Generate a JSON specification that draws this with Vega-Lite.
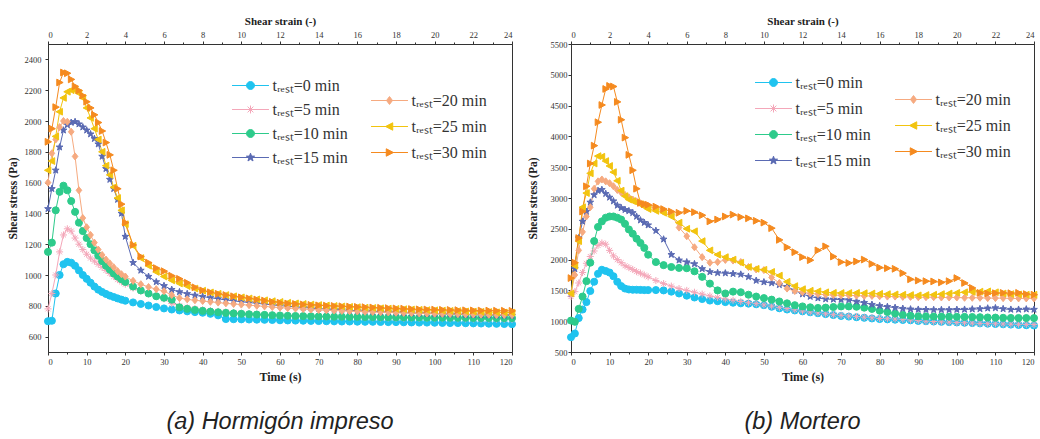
{
  "$schema": "https://vega.github.io/schema/vega-lite/v6.json",
  "background": "white",
  "padding": {"left": 6, "top": 14, "right": 0, "bottom": 0},
  "spacing": 7,
  "config": {
    "font": "Liberation Serif",
    "view": {"stroke": "#333", "strokeWidth": 1},
    "axis": {
      "grid": false,
      "domainColor": "#333",
      "tickColor": "#333",
      "labelColor": "#333",
      "labelFont": "Liberation Serif",
      "labelFontSize": 8.5,
      "tickSize": 3,
      "titleFont": "Liberation Serif",
      "titleFontWeight": "bold",
      "titleColor": "#222"
    },
    "legend": {
      "labelFont": "Liberation Serif",
      "labelFontSize": 16,
      "labelColor": "#333",
      "symbolSize": 576,
      "symbolStrokeWidth": 1,
      "labelOffset": 9.5,
      "padding": 0
    }
  },
  "resolve": {"scale": {"x": "independent", "y": "independent", "color": "independent", "fill": "independent", "stroke": "independent", "shape": "independent"}},
  "datasets": {
    "hormigon": [
      {"s":0,"t":0,"v":700},{"s":0,"t":1,"v":703},{"s":0,"t":2,"v":880},{"s":0,"t":3,"v":1000},{"s":0,"t":4,"v":1070},{"s":0,"t":5,"v":1085},{"s":0,"t":6,"v":1080},{"s":0,"t":7,"v":1060},{"s":0,"t":8,"v":1030},{"s":0,"t":9,"v":1000},{"s":0,"t":10,"v":975},{"s":0,"t":11,"v":950},{"s":0,"t":12,"v":925},{"s":0,"t":13,"v":905},{"s":0,"t":14,"v":890},{"s":0,"t":15,"v":877},{"s":0,"t":16,"v":866},{"s":0,"t":17,"v":857},{"s":0,"t":18,"v":848},{"s":0,"t":19,"v":840},{"s":0,"t":20,"v":833},
      {"s":0,"t":22,"v":822},{"s":0,"t":24,"v":812},{"s":0,"t":26,"v":802},{"s":0,"t":28,"v":792},{"s":0,"t":30,"v":783},{"s":0,"t":32,"v":776},{"s":0,"t":34,"v":770},{"s":0,"t":36,"v":764},{"s":0,"t":38,"v":759},{"s":0,"t":40,"v":755},{"s":0,"t":42,"v":748},{"s":0,"t":44,"v":738},{"s":0,"t":46,"v":714},{"s":0,"t":48,"v":713},{"s":0,"t":50,"v":712},{"s":0,"t":52,"v":711},{"s":0,"t":54,"v":710},{"s":0,"t":56,"v":709},{"s":0,"t":58,"v":708},{"s":0,"t":60,"v":706},{"s":0,"t":62,"v":705},{"s":0,"t":64,"v":704},{"s":0,"t":66,"v":703},{"s":0,"t":68,"v":702},{"s":0,"t":70,"v":701},{"s":0,"t":72,"v":700},{"s":0,"t":74,"v":699},{"s":0,"t":76,"v":698},{"s":0,"t":78,"v":698},{"s":0,"t":80,"v":697},{"s":0,"t":82,"v":696},{"s":0,"t":84,"v":696},{"s":0,"t":86,"v":695},{"s":0,"t":88,"v":694},{"s":0,"t":90,"v":694},{"s":0,"t":92,"v":693},{"s":0,"t":94,"v":692},{"s":0,"t":96,"v":691},{"s":0,"t":98,"v":691},{"s":0,"t":100,"v":690},{"s":0,"t":102,"v":689},{"s":0,"t":104,"v":688},{"s":0,"t":106,"v":688},{"s":0,"t":108,"v":687},{"s":0,"t":110,"v":686},{"s":0,"t":112,"v":685},{"s":0,"t":114,"v":684},{"s":0,"t":116,"v":683},{"s":0,"t":118,"v":682},{"s":0,"t":120,"v":681},
      {"s":5,"t":0,"v":780},{"s":5,"t":1,"v":880},{"s":5,"t":2,"v":1000},{"s":5,"t":3,"v":1150},{"s":5,"t":4,"v":1260},{"s":5,"t":5,"v":1300},{"s":5,"t":6,"v":1285},{"s":5,"t":7,"v":1240},{"s":5,"t":8,"v":1200},{"s":5,"t":9,"v":1165},{"s":5,"t":10,"v":1135},{"s":5,"t":11,"v":1110},{"s":5,"t":12,"v":1090},{"s":5,"t":13,"v":1070},{"s":5,"t":14,"v":1050},{"s":5,"t":15,"v":1030},{"s":5,"t":16,"v":1010},{"s":5,"t":17,"v":990},{"s":5,"t":18,"v":970},{"s":5,"t":19,"v":955},{"s":5,"t":20,"v":940},
      {"s":5,"t":22,"v":915},{"s":5,"t":24,"v":895},{"s":5,"t":26,"v":878},{"s":5,"t":28,"v":862},{"s":5,"t":30,"v":845},{"s":5,"t":32,"v":815},{"s":5,"t":34,"v":800},{"s":5,"t":36,"v":790},{"s":5,"t":38,"v":782},{"s":5,"t":40,"v":775},{"s":5,"t":42,"v":769},{"s":5,"t":44,"v":764},{"s":5,"t":46,"v":760},{"s":5,"t":48,"v":756},{"s":5,"t":50,"v":752},{"s":5,"t":52,"v":749},{"s":5,"t":54,"v":746},{"s":5,"t":56,"v":743},{"s":5,"t":58,"v":740},{"s":5,"t":60,"v":738},{"s":5,"t":62,"v":736},{"s":5,"t":64,"v":734},{"s":5,"t":66,"v":732},{"s":5,"t":68,"v":730},{"s":5,"t":70,"v":729},{"s":5,"t":72,"v":728},{"s":5,"t":74,"v":727},{"s":5,"t":76,"v":726},{"s":5,"t":78,"v":725},{"s":5,"t":80,"v":724},{"s":5,"t":82,"v":723},{"s":5,"t":84,"v":722},{"s":5,"t":86,"v":721},{"s":5,"t":88,"v":721},{"s":5,"t":90,"v":720},{"s":5,"t":92,"v":719},{"s":5,"t":94,"v":719},{"s":5,"t":96,"v":718},{"s":5,"t":98,"v":718},{"s":5,"t":100,"v":717},{"s":5,"t":102,"v":717},{"s":5,"t":104,"v":716},{"s":5,"t":106,"v":716},{"s":5,"t":108,"v":715},{"s":5,"t":110,"v":715},{"s":5,"t":112,"v":714},{"s":5,"t":114,"v":714},{"s":5,"t":116,"v":713},{"s":5,"t":118,"v":713},{"s":5,"t":120,"v":712},
      {"s":10,"t":0,"v":1150},{"s":10,"t":1,"v":1210},{"s":10,"t":2,"v":1420},{"s":10,"t":3,"v":1540},{"s":10,"t":4,"v":1580},{"s":10,"t":5,"v":1550},{"s":10,"t":6,"v":1480},{"s":10,"t":7,"v":1410},{"s":10,"t":8,"v":1340},{"s":10,"t":9,"v":1285},{"s":10,"t":10,"v":1240},{"s":10,"t":11,"v":1200},{"s":10,"t":12,"v":1160},{"s":10,"t":13,"v":1125},{"s":10,"t":14,"v":1090},{"s":10,"t":15,"v":1060},{"s":10,"t":16,"v":1035},{"s":10,"t":17,"v":1010},{"s":10,"t":18,"v":990},{"s":10,"t":19,"v":972},{"s":10,"t":20,"v":955},
      {"s":10,"t":22,"v":925},{"s":10,"t":24,"v":900},{"s":10,"t":26,"v":880},{"s":10,"t":28,"v":862},{"s":10,"t":30,"v":852},{"s":10,"t":32,"v":840},{"s":10,"t":34,"v":790},{"s":10,"t":36,"v":780},{"s":10,"t":38,"v":773},{"s":10,"t":40,"v":767},{"s":10,"t":42,"v":762},{"s":10,"t":44,"v":758},{"s":10,"t":46,"v":754},{"s":10,"t":48,"v":751},{"s":10,"t":50,"v":748},{"s":10,"t":52,"v":745},{"s":10,"t":54,"v":743},{"s":10,"t":56,"v":741},{"s":10,"t":58,"v":739},{"s":10,"t":60,"v":737},{"s":10,"t":62,"v":735},{"s":10,"t":64,"v":734},{"s":10,"t":66,"v":733},{"s":10,"t":68,"v":732},{"s":10,"t":70,"v":731},{"s":10,"t":72,"v":730},{"s":10,"t":74,"v":729},{"s":10,"t":76,"v":729},{"s":10,"t":78,"v":728},{"s":10,"t":80,"v":728},{"s":10,"t":82,"v":727},{"s":10,"t":84,"v":727},{"s":10,"t":86,"v":726},{"s":10,"t":88,"v":726},{"s":10,"t":90,"v":725},{"s":10,"t":92,"v":725},{"s":10,"t":94,"v":724},{"s":10,"t":96,"v":724},{"s":10,"t":98,"v":723},{"s":10,"t":100,"v":723},{"s":10,"t":102,"v":723},{"s":10,"t":104,"v":722},{"s":10,"t":106,"v":722},{"s":10,"t":108,"v":722},{"s":10,"t":110,"v":721},{"s":10,"t":112,"v":721},{"s":10,"t":114,"v":721},{"s":10,"t":116,"v":720},{"s":10,"t":118,"v":720},{"s":10,"t":120,"v":720},
      {"s":15,"t":0,"v":1430},{"s":15,"t":1,"v":1560},{"s":15,"t":2,"v":1680},{"s":15,"t":3,"v":1830},{"s":15,"t":4,"v":1940},{"s":15,"t":5,"v":1975},{"s":15,"t":6,"v":1990},{"s":15,"t":7,"v":1995},{"s":15,"t":8,"v":1980},{"s":15,"t":9,"v":1960},{"s":15,"t":10,"v":1940},{"s":15,"t":11,"v":1915},{"s":15,"t":12,"v":1885},{"s":15,"t":13,"v":1850},{"s":15,"t":14,"v":1770},{"s":15,"t":15,"v":1690},{"s":15,"t":16,"v":1620},{"s":15,"t":17,"v":1560},{"s":15,"t":18,"v":1490},{"s":15,"t":19,"v":1400},{"s":15,"t":20,"v":1250},
      {"s":15,"t":22,"v":1080},{"s":15,"t":24,"v":1030},{"s":15,"t":26,"v":990},{"s":15,"t":28,"v":955},{"s":15,"t":30,"v":930},{"s":15,"t":32,"v":905},{"s":15,"t":34,"v":890},{"s":15,"t":36,"v":878},{"s":15,"t":38,"v":868},{"s":15,"t":40,"v":860},{"s":15,"t":42,"v":852},{"s":15,"t":44,"v":845},{"s":15,"t":46,"v":838},{"s":15,"t":48,"v":832},{"s":15,"t":50,"v":826},{"s":15,"t":52,"v":821},{"s":15,"t":54,"v":816},{"s":15,"t":56,"v":811},{"s":15,"t":58,"v":806},{"s":15,"t":60,"v":801},{"s":15,"t":62,"v":797},{"s":15,"t":64,"v":793},{"s":15,"t":66,"v":789},{"s":15,"t":68,"v":785},{"s":15,"t":70,"v":782},{"s":15,"t":72,"v":779},{"s":15,"t":74,"v":776},{"s":15,"t":76,"v":773},{"s":15,"t":78,"v":770},{"s":15,"t":80,"v":768},{"s":15,"t":82,"v":765},{"s":15,"t":84,"v":763},{"s":15,"t":86,"v":761},{"s":15,"t":88,"v":759},{"s":15,"t":90,"v":757},{"s":15,"t":92,"v":755},{"s":15,"t":94,"v":753},{"s":15,"t":96,"v":751},{"s":15,"t":98,"v":750},{"s":15,"t":100,"v":748},{"s":15,"t":102,"v":747},{"s":15,"t":104,"v":745},{"s":15,"t":106,"v":744},{"s":15,"t":108,"v":742},{"s":15,"t":110,"v":741},{"s":15,"t":112,"v":740},{"s":15,"t":114,"v":739},{"s":15,"t":116,"v":738},{"s":15,"t":118,"v":737},{"s":15,"t":120,"v":736},
      {"s":20,"t":0,"v":1600},{"s":20,"t":1,"v":1790},{"s":20,"t":2,"v":1880},{"s":20,"t":3,"v":1960},{"s":20,"t":4,"v":2000},{"s":20,"t":5,"v":1995},{"s":20,"t":6,"v":1930},{"s":20,"t":7,"v":1770},{"s":20,"t":8,"v":1550},{"s":20,"t":9,"v":1370},{"s":20,"t":10,"v":1310},{"s":20,"t":11,"v":1260},{"s":20,"t":12,"v":1210},{"s":20,"t":13,"v":1165},{"s":20,"t":14,"v":1130},{"s":20,"t":15,"v":1100},{"s":20,"t":16,"v":1075},{"s":20,"t":17,"v":1050},{"s":20,"t":18,"v":1025},{"s":20,"t":19,"v":1005},{"s":20,"t":20,"v":990},
      {"s":20,"t":22,"v":962},{"s":20,"t":24,"v":940},{"s":20,"t":26,"v":922},{"s":20,"t":28,"v":908},{"s":20,"t":30,"v":895},{"s":20,"t":32,"v":870},{"s":20,"t":34,"v":850},{"s":20,"t":36,"v":842},{"s":20,"t":38,"v":836},{"s":20,"t":40,"v":831},{"s":20,"t":42,"v":826},{"s":20,"t":44,"v":821},{"s":20,"t":46,"v":816},{"s":20,"t":48,"v":812},{"s":20,"t":50,"v":808},{"s":20,"t":52,"v":804},{"s":20,"t":54,"v":800},{"s":20,"t":56,"v":796},{"s":20,"t":58,"v":792},{"s":20,"t":60,"v":788},{"s":20,"t":62,"v":785},{"s":20,"t":64,"v":782},{"s":20,"t":66,"v":779},{"s":20,"t":68,"v":776},{"s":20,"t":70,"v":773},{"s":20,"t":72,"v":771},{"s":20,"t":74,"v":769},{"s":20,"t":76,"v":767},{"s":20,"t":78,"v":765},{"s":20,"t":80,"v":763},{"s":20,"t":82,"v":761},{"s":20,"t":84,"v":760},{"s":20,"t":86,"v":758},{"s":20,"t":88,"v":757},{"s":20,"t":90,"v":755},{"s":20,"t":92,"v":754},{"s":20,"t":94,"v":753},{"s":20,"t":96,"v":751},{"s":20,"t":98,"v":750},{"s":20,"t":100,"v":749},{"s":20,"t":102,"v":748},{"s":20,"t":104,"v":747},{"s":20,"t":106,"v":746},{"s":20,"t":108,"v":745},{"s":20,"t":110,"v":744},{"s":20,"t":112,"v":743},{"s":20,"t":114,"v":742},{"s":20,"t":116,"v":741},{"s":20,"t":118,"v":741},{"s":20,"t":120,"v":740},
      {"s":25,"t":0,"v":1680},{"s":25,"t":1,"v":1740},{"s":25,"t":2,"v":1900},{"s":25,"t":3,"v":2060},{"s":25,"t":4,"v":2150},{"s":25,"t":5,"v":2190},{"s":25,"t":6,"v":2200},{"s":25,"t":7,"v":2200},{"s":25,"t":8,"v":2180},{"s":25,"t":9,"v":2150},{"s":25,"t":10,"v":2085},{"s":25,"t":11,"v":2020},{"s":25,"t":12,"v":1950},{"s":25,"t":13,"v":1880},{"s":25,"t":14,"v":1800},{"s":25,"t":15,"v":1710},{"s":25,"t":16,"v":1650},{"s":25,"t":17,"v":1570},{"s":25,"t":18,"v":1500},{"s":25,"t":19,"v":1420},{"s":25,"t":20,"v":1330},
      {"s":25,"t":22,"v":1190},{"s":25,"t":24,"v":1110},{"s":25,"t":26,"v":1060},{"s":25,"t":28,"v":1020},{"s":25,"t":30,"v":990},{"s":25,"t":32,"v":965},{"s":25,"t":34,"v":945},{"s":25,"t":36,"v":928},{"s":25,"t":38,"v":912},{"s":25,"t":40,"v":898},{"s":25,"t":42,"v":887},{"s":25,"t":44,"v":878},{"s":25,"t":46,"v":870},{"s":25,"t":48,"v":862},{"s":25,"t":50,"v":855},{"s":25,"t":52,"v":848},{"s":25,"t":54,"v":842},{"s":25,"t":56,"v":836},{"s":25,"t":58,"v":830},{"s":25,"t":60,"v":825},{"s":25,"t":62,"v":820},{"s":25,"t":64,"v":816},{"s":25,"t":66,"v":812},{"s":25,"t":68,"v":808},{"s":25,"t":70,"v":805},{"s":25,"t":72,"v":802},{"s":25,"t":74,"v":799},{"s":25,"t":76,"v":796},{"s":25,"t":78,"v":793},{"s":25,"t":80,"v":791},{"s":25,"t":82,"v":788},{"s":25,"t":84,"v":786},{"s":25,"t":86,"v":784},{"s":25,"t":88,"v":782},{"s":25,"t":90,"v":780},{"s":25,"t":92,"v":778},{"s":25,"t":94,"v":776},{"s":25,"t":96,"v":774},{"s":25,"t":98,"v":772},{"s":25,"t":100,"v":771},{"s":25,"t":102,"v":769},{"s":25,"t":104,"v":767},{"s":25,"t":106,"v":766},{"s":25,"t":108,"v":764},{"s":25,"t":110,"v":763},{"s":25,"t":112,"v":761},{"s":25,"t":114,"v":760},{"s":25,"t":116,"v":758},{"s":25,"t":118,"v":757},{"s":25,"t":120,"v":756},
      {"s":30,"t":0,"v":1865},{"s":30,"t":1,"v":1950},{"s":30,"t":2,"v":2090},{"s":30,"t":3,"v":2250},{"s":30,"t":4,"v":2315},{"s":30,"t":5,"v":2310},{"s":30,"t":6,"v":2270},{"s":30,"t":7,"v":2225},{"s":30,"t":8,"v":2198},{"s":30,"t":9,"v":2165},{"s":30,"t":10,"v":2125},{"s":30,"t":11,"v":2085},{"s":30,"t":12,"v":2040},{"s":30,"t":13,"v":1990},{"s":30,"t":14,"v":1935},{"s":30,"t":15,"v":1860},{"s":30,"t":16,"v":1780},{"s":30,"t":17,"v":1680},{"s":30,"t":18,"v":1560},{"s":30,"t":19,"v":1460},{"s":30,"t":20,"v":1340},
      {"s":30,"t":22,"v":1195},{"s":30,"t":24,"v":1120},{"s":30,"t":26,"v":1080},{"s":30,"t":28,"v":1045},{"s":30,"t":30,"v":1025},{"s":30,"t":32,"v":995},{"s":30,"t":34,"v":975},{"s":30,"t":36,"v":950},{"s":30,"t":38,"v":920},{"s":30,"t":40,"v":900},{"s":30,"t":42,"v":888},{"s":30,"t":44,"v":878},{"s":30,"t":46,"v":870},{"s":30,"t":48,"v":862},{"s":30,"t":50,"v":855},{"s":30,"t":52,"v":848},{"s":30,"t":54,"v":841},{"s":30,"t":56,"v":834},{"s":30,"t":58,"v":826},{"s":30,"t":60,"v":820},{"s":30,"t":62,"v":815},{"s":30,"t":64,"v":812},{"s":30,"t":66,"v":809},{"s":30,"t":68,"v":806},{"s":30,"t":70,"v":803},{"s":30,"t":72,"v":801},{"s":30,"t":74,"v":799},{"s":30,"t":76,"v":797},{"s":30,"t":78,"v":795},{"s":30,"t":80,"v":793},{"s":30,"t":82,"v":791},{"s":30,"t":84,"v":789},{"s":30,"t":86,"v":787},{"s":30,"t":88,"v":785},{"s":30,"t":90,"v":783},{"s":30,"t":92,"v":781},{"s":30,"t":94,"v":779},{"s":30,"t":96,"v":777},{"s":30,"t":98,"v":776},{"s":30,"t":100,"v":775},{"s":30,"t":102,"v":774},{"s":30,"t":104,"v":773},{"s":30,"t":106,"v":772},{"s":30,"t":108,"v":771},{"s":30,"t":110,"v":770},{"s":30,"t":112,"v":769},{"s":30,"t":114,"v":769},{"s":30,"t":116,"v":768},{"s":30,"t":118,"v":768},{"s":30,"t":120,"v":767}
    ],
    "mortero": [
      {"s":0,"t":0,"v":740},{"s":0,"t":1,"v":800},{"s":0,"t":2,"v":1050},{"s":0,"t":3,"v":1190},{"s":0,"t":4,"v":1310},{"s":0,"t":5,"v":1490},{"s":0,"t":6,"v":1640},{"s":0,"t":7,"v":1770},{"s":0,"t":8,"v":1835},{"s":0,"t":9,"v":1815},{"s":0,"t":10,"v":1790},{"s":0,"t":11,"v":1730},{"s":0,"t":12,"v":1640},{"s":0,"t":13,"v":1570},{"s":0,"t":14,"v":1530},{"s":0,"t":15,"v":1515},{"s":0,"t":16,"v":1510},{"s":0,"t":17,"v":1510},{"s":0,"t":18,"v":1508},{"s":0,"t":19,"v":1505},{"s":0,"t":20,"v":1505},
      {"s":0,"t":22,"v":1505},{"s":0,"t":24,"v":1500},{"s":0,"t":26,"v":1480},{"s":0,"t":28,"v":1450},{"s":0,"t":30,"v":1415},{"s":0,"t":32,"v":1385},{"s":0,"t":34,"v":1360},{"s":0,"t":36,"v":1335},{"s":0,"t":38,"v":1325},{"s":0,"t":40,"v":1310},{"s":0,"t":42,"v":1300},{"s":0,"t":44,"v":1290},{"s":0,"t":46,"v":1285},{"s":0,"t":48,"v":1275},{"s":0,"t":50,"v":1260},{"s":0,"t":52,"v":1235},{"s":0,"t":54,"v":1210},{"s":0,"t":56,"v":1190},{"s":0,"t":58,"v":1175},{"s":0,"t":60,"v":1160},{"s":0,"t":62,"v":1145},{"s":0,"t":64,"v":1130},{"s":0,"t":66,"v":1115},{"s":0,"t":68,"v":1100},{"s":0,"t":70,"v":1085},{"s":0,"t":72,"v":1075},{"s":0,"t":74,"v":1065},{"s":0,"t":76,"v":1055},{"s":0,"t":78,"v":1045},{"s":0,"t":80,"v":1035},{"s":0,"t":82,"v":1030},{"s":0,"t":84,"v":1025},{"s":0,"t":86,"v":1020},{"s":0,"t":88,"v":1015},{"s":0,"t":90,"v":1005},{"s":0,"t":92,"v":1000},{"s":0,"t":94,"v":995},{"s":0,"t":96,"v":990},{"s":0,"t":98,"v":985},{"s":0,"t":100,"v":980},{"s":0,"t":102,"v":975},{"s":0,"t":104,"v":970},{"s":0,"t":106,"v":965},{"s":0,"t":108,"v":960},{"s":0,"t":110,"v":955},{"s":0,"t":112,"v":950},{"s":0,"t":114,"v":945},{"s":0,"t":116,"v":940},{"s":0,"t":118,"v":935},{"s":0,"t":120,"v":930},
      {"s":5,"t":0,"v":1400},{"s":5,"t":1,"v":1480},{"s":5,"t":2,"v":1620},{"s":5,"t":3,"v":1790},{"s":5,"t":4,"v":1940},{"s":5,"t":5,"v":2050},{"s":5,"t":6,"v":2140},{"s":5,"t":7,"v":2230},{"s":5,"t":8,"v":2270},{"s":5,"t":9,"v":2250},{"s":5,"t":10,"v":2150},{"s":5,"t":11,"v":2060},{"s":5,"t":12,"v":2000},{"s":5,"t":13,"v":1950},{"s":5,"t":14,"v":1900},{"s":5,"t":15,"v":1870},{"s":5,"t":16,"v":1840},{"s":5,"t":17,"v":1805},{"s":5,"t":18,"v":1780},{"s":5,"t":19,"v":1750},{"s":5,"t":20,"v":1720},
      {"s":5,"t":22,"v":1660},{"s":5,"t":24,"v":1610},{"s":5,"t":26,"v":1570},{"s":5,"t":28,"v":1530},{"s":5,"t":30,"v":1500},{"s":5,"t":32,"v":1470},{"s":5,"t":34,"v":1440},{"s":5,"t":36,"v":1410},{"s":5,"t":38,"v":1385},{"s":5,"t":40,"v":1360},{"s":5,"t":42,"v":1340},{"s":5,"t":44,"v":1320},{"s":5,"t":46,"v":1300},{"s":5,"t":48,"v":1285},{"s":5,"t":50,"v":1265},{"s":5,"t":52,"v":1245},{"s":5,"t":54,"v":1225},{"s":5,"t":56,"v":1205},{"s":5,"t":58,"v":1185},{"s":5,"t":60,"v":1165},{"s":5,"t":62,"v":1150},{"s":5,"t":64,"v":1135},{"s":5,"t":66,"v":1120},{"s":5,"t":68,"v":1105},{"s":5,"t":70,"v":1095},{"s":5,"t":72,"v":1085},{"s":5,"t":74,"v":1075},{"s":5,"t":76,"v":1065},{"s":5,"t":78,"v":1055},{"s":5,"t":80,"v":1045},{"s":5,"t":82,"v":1040},{"s":5,"t":84,"v":1035},{"s":5,"t":86,"v":1030},{"s":5,"t":88,"v":1020},{"s":5,"t":90,"v":1010},{"s":5,"t":92,"v":1000},{"s":5,"t":94,"v":995},{"s":5,"t":96,"v":990},{"s":5,"t":98,"v":985},{"s":5,"t":100,"v":980},{"s":5,"t":102,"v":975},{"s":5,"t":104,"v":970},{"s":5,"t":106,"v":965},{"s":5,"t":108,"v":960},{"s":5,"t":110,"v":958},{"s":5,"t":112,"v":955},{"s":5,"t":114,"v":952},{"s":5,"t":116,"v":950},{"s":5,"t":118,"v":948},{"s":5,"t":120,"v":945},
      {"s":10,"t":0,"v":1010},{"s":10,"t":1,"v":990},{"s":10,"t":2,"v":1200},{"s":10,"t":3,"v":1400},{"s":10,"t":4,"v":1650},{"s":10,"t":5,"v":1950},{"s":10,"t":6,"v":2300},{"s":10,"t":7,"v":2530},{"s":10,"t":8,"v":2620},{"s":10,"t":9,"v":2680},{"s":10,"t":10,"v":2700},{"s":10,"t":11,"v":2700},{"s":10,"t":12,"v":2680},{"s":10,"t":13,"v":2650},{"s":10,"t":14,"v":2580},{"s":10,"t":15,"v":2490},{"s":10,"t":16,"v":2420},{"s":10,"t":17,"v":2340},{"s":10,"t":18,"v":2270},{"s":10,"t":19,"v":2190},{"s":10,"t":20,"v":2080},
      {"s":10,"t":22,"v":1960},{"s":10,"t":24,"v":1910},{"s":10,"t":26,"v":1880},{"s":10,"t":28,"v":1865},{"s":10,"t":30,"v":1860},{"s":10,"t":32,"v":1810},{"s":10,"t":34,"v":1720},{"s":10,"t":36,"v":1610},{"s":10,"t":38,"v":1500},{"s":10,"t":40,"v":1450},{"s":10,"t":42,"v":1480},{"s":10,"t":44,"v":1470},{"s":10,"t":46,"v":1430},{"s":10,"t":48,"v":1400},{"s":10,"t":50,"v":1375},{"s":10,"t":52,"v":1350},{"s":10,"t":54,"v":1320},{"s":10,"t":56,"v":1290},{"s":10,"t":58,"v":1260},{"s":10,"t":60,"v":1240},{"s":10,"t":62,"v":1225},{"s":10,"t":64,"v":1215},{"s":10,"t":66,"v":1220},{"s":10,"t":68,"v":1230},{"s":10,"t":70,"v":1240},{"s":10,"t":72,"v":1240},{"s":10,"t":74,"v":1235},{"s":10,"t":76,"v":1220},{"s":10,"t":78,"v":1200},{"s":10,"t":80,"v":1170},{"s":10,"t":82,"v":1150},{"s":10,"t":84,"v":1125},{"s":10,"t":86,"v":1105},{"s":10,"t":88,"v":1090},{"s":10,"t":90,"v":1080},{"s":10,"t":92,"v":1078},{"s":10,"t":94,"v":1076},{"s":10,"t":96,"v":1075},{"s":10,"t":98,"v":1074},{"s":10,"t":100,"v":1072},{"s":10,"t":102,"v":1070},{"s":10,"t":104,"v":1068},{"s":10,"t":106,"v":1065},{"s":10,"t":108,"v":1060},{"s":10,"t":110,"v":1058},{"s":10,"t":112,"v":1055},{"s":10,"t":114,"v":1053},{"s":10,"t":116,"v":1052},{"s":10,"t":118,"v":1051},{"s":10,"t":120,"v":1050},
      {"s":15,"t":0,"v":1450},{"s":15,"t":1,"v":1850},{"s":15,"t":2,"v":2350},{"s":15,"t":3,"v":2620},{"s":15,"t":4,"v":2780},{"s":15,"t":5,"v":2930},{"s":15,"t":6,"v":3050},{"s":15,"t":7,"v":3120},{"s":15,"t":8,"v":3135},{"s":15,"t":9,"v":3070},{"s":15,"t":10,"v":3010},{"s":15,"t":11,"v":2950},{"s":15,"t":12,"v":2880},{"s":15,"t":13,"v":2840},{"s":15,"t":14,"v":2810},{"s":15,"t":15,"v":2790},{"s":15,"t":16,"v":2760},{"s":15,"t":17,"v":2700},{"s":15,"t":18,"v":2640},{"s":15,"t":19,"v":2600},{"s":15,"t":20,"v":2560},
      {"s":15,"t":22,"v":2470},{"s":15,"t":24,"v":2330},{"s":15,"t":26,"v":2080},{"s":15,"t":28,"v":1990},{"s":15,"t":30,"v":1960},{"s":15,"t":32,"v":1930},{"s":15,"t":34,"v":1850},{"s":15,"t":36,"v":1800},{"s":15,"t":38,"v":1785},{"s":15,"t":40,"v":1780},{"s":15,"t":42,"v":1770},{"s":15,"t":44,"v":1760},{"s":15,"t":46,"v":1720},{"s":15,"t":48,"v":1660},{"s":15,"t":50,"v":1635},{"s":15,"t":52,"v":1620},{"s":15,"t":54,"v":1590},{"s":15,"t":56,"v":1560},{"s":15,"t":58,"v":1500},{"s":15,"t":60,"v":1440},{"s":15,"t":62,"v":1400},{"s":15,"t":64,"v":1375},{"s":15,"t":66,"v":1360},{"s":15,"t":68,"v":1355},{"s":15,"t":70,"v":1350},{"s":15,"t":72,"v":1345},{"s":15,"t":74,"v":1320},{"s":15,"t":76,"v":1300},{"s":15,"t":78,"v":1270},{"s":15,"t":80,"v":1250},{"s":15,"t":82,"v":1235},{"s":15,"t":84,"v":1220},{"s":15,"t":86,"v":1205},{"s":15,"t":88,"v":1195},{"s":15,"t":90,"v":1190},{"s":15,"t":92,"v":1188},{"s":15,"t":94,"v":1185},{"s":15,"t":96,"v":1185},{"s":15,"t":98,"v":1185},{"s":15,"t":100,"v":1188},{"s":15,"t":102,"v":1190},{"s":15,"t":104,"v":1195},{"s":15,"t":106,"v":1200},{"s":15,"t":108,"v":1210},{"s":15,"t":110,"v":1215},{"s":15,"t":112,"v":1200},{"s":15,"t":114,"v":1190},{"s":15,"t":116,"v":1190},{"s":15,"t":118,"v":1195},{"s":15,"t":120,"v":1190},
      {"s":20,"t":0,"v":1450},{"s":20,"t":1,"v":1750},{"s":20,"t":2,"v":2150},{"s":20,"t":3,"v":2450},{"s":20,"t":4,"v":2700},{"s":20,"t":5,"v":2850},{"s":20,"t":6,"v":3150},{"s":20,"t":7,"v":3270},{"s":20,"t":8,"v":3300},{"s":20,"t":9,"v":3270},{"s":20,"t":10,"v":3240},{"s":20,"t":11,"v":3190},{"s":20,"t":12,"v":3130},{"s":20,"t":13,"v":3090},{"s":20,"t":14,"v":3050},{"s":20,"t":15,"v":3010},{"s":20,"t":16,"v":2975},{"s":20,"t":17,"v":2945},{"s":20,"t":18,"v":2915},{"s":20,"t":19,"v":2890},{"s":20,"t":20,"v":2870},
      {"s":20,"t":22,"v":2830},{"s":20,"t":24,"v":2780},{"s":20,"t":26,"v":2730},{"s":20,"t":28,"v":2520},{"s":20,"t":30,"v":2380},{"s":20,"t":32,"v":2200},{"s":20,"t":34,"v":2040},{"s":20,"t":36,"v":1950},{"s":20,"t":38,"v":1960},{"s":20,"t":40,"v":1995},{"s":20,"t":42,"v":1985},{"s":20,"t":44,"v":1960},{"s":20,"t":46,"v":1880},{"s":20,"t":48,"v":1840},{"s":20,"t":50,"v":1830},{"s":20,"t":52,"v":1710},{"s":20,"t":54,"v":1620},{"s":20,"t":56,"v":1530},{"s":20,"t":58,"v":1490},{"s":20,"t":60,"v":1470},{"s":20,"t":62,"v":1450},{"s":20,"t":64,"v":1440},{"s":20,"t":66,"v":1430},{"s":20,"t":68,"v":1425},{"s":20,"t":70,"v":1420},{"s":20,"t":72,"v":1420},{"s":20,"t":74,"v":1415},{"s":20,"t":76,"v":1410},{"s":20,"t":78,"v":1410},{"s":20,"t":80,"v":1405},{"s":20,"t":82,"v":1400},{"s":20,"t":84,"v":1400},{"s":20,"t":86,"v":1395},{"s":20,"t":88,"v":1395},{"s":20,"t":90,"v":1390},{"s":20,"t":92,"v":1390},{"s":20,"t":94,"v":1390},{"s":20,"t":96,"v":1385},{"s":20,"t":98,"v":1385},{"s":20,"t":100,"v":1385},{"s":20,"t":102,"v":1380},{"s":20,"t":104,"v":1380},{"s":20,"t":106,"v":1380},{"s":20,"t":108,"v":1375},{"s":20,"t":110,"v":1375},{"s":20,"t":112,"v":1375},{"s":20,"t":114,"v":1370},{"s":20,"t":116,"v":1370},{"s":20,"t":118,"v":1370},{"s":20,"t":120,"v":1370},
      {"s":25,"t":0,"v":1450},{"s":25,"t":1,"v":1900},{"s":25,"t":2,"v":2300},{"s":25,"t":3,"v":2850},{"s":25,"t":4,"v":3080},{"s":25,"t":5,"v":3400},{"s":25,"t":6,"v":3560},{"s":25,"t":7,"v":3680},{"s":25,"t":8,"v":3670},{"s":25,"t":9,"v":3600},{"s":25,"t":10,"v":3520},{"s":25,"t":11,"v":3420},{"s":25,"t":12,"v":3280},{"s":25,"t":13,"v":3120},{"s":25,"t":14,"v":3030},{"s":25,"t":15,"v":2975},{"s":25,"t":16,"v":2950},{"s":25,"t":17,"v":2930},{"s":25,"t":18,"v":2900},{"s":25,"t":19,"v":2860},{"s":25,"t":20,"v":2820},
      {"s":25,"t":22,"v":2790},{"s":25,"t":24,"v":2760},{"s":25,"t":26,"v":2700},{"s":25,"t":28,"v":2600},{"s":25,"t":30,"v":2500},{"s":25,"t":32,"v":2460},{"s":25,"t":34,"v":2300},{"s":25,"t":36,"v":2150},{"s":25,"t":38,"v":2080},{"s":25,"t":40,"v":2040},{"s":25,"t":42,"v":2000},{"s":25,"t":44,"v":1950},{"s":25,"t":46,"v":1880},{"s":25,"t":48,"v":1850},{"s":25,"t":50,"v":1835},{"s":25,"t":52,"v":1800},{"s":25,"t":54,"v":1740},{"s":25,"t":56,"v":1640},{"s":25,"t":58,"v":1570},{"s":25,"t":60,"v":1520},{"s":25,"t":62,"v":1495},{"s":25,"t":64,"v":1485},{"s":25,"t":66,"v":1470},{"s":25,"t":68,"v":1460},{"s":25,"t":70,"v":1458},{"s":25,"t":72,"v":1458},{"s":25,"t":74,"v":1460},{"s":25,"t":76,"v":1455},{"s":25,"t":78,"v":1450},{"s":25,"t":80,"v":1445},{"s":25,"t":82,"v":1440},{"s":25,"t":84,"v":1435},{"s":25,"t":86,"v":1430},{"s":25,"t":88,"v":1425},{"s":25,"t":90,"v":1420},{"s":25,"t":92,"v":1425},{"s":25,"t":94,"v":1430},{"s":25,"t":96,"v":1440},{"s":25,"t":98,"v":1450},{"s":25,"t":100,"v":1460},{"s":25,"t":102,"v":1470},{"s":25,"t":104,"v":1475},{"s":25,"t":106,"v":1480},{"s":25,"t":108,"v":1485},{"s":25,"t":110,"v":1470},{"s":25,"t":112,"v":1450},{"s":25,"t":114,"v":1440},{"s":25,"t":116,"v":1435},{"s":25,"t":118,"v":1430},{"s":25,"t":120,"v":1430},
      {"s":30,"t":0,"v":1700},{"s":30,"t":1,"v":1950},{"s":30,"t":2,"v":2350},{"s":30,"t":3,"v":2780},{"s":30,"t":4,"v":3190},{"s":30,"t":5,"v":3560},{"s":30,"t":6,"v":3850},{"s":30,"t":7,"v":4230},{"s":30,"t":8,"v":4510},{"s":30,"t":9,"v":4770},{"s":30,"t":10,"v":4820},{"s":30,"t":11,"v":4810},{"s":30,"t":12,"v":4560},{"s":30,"t":13,"v":4270},{"s":30,"t":14,"v":3980},{"s":30,"t":15,"v":3700},{"s":30,"t":16,"v":3450},{"s":30,"t":17,"v":3150},{"s":30,"t":18,"v":2920},{"s":30,"t":19,"v":2900},{"s":30,"t":20,"v":2890},
      {"s":30,"t":22,"v":2860},{"s":30,"t":24,"v":2820},{"s":30,"t":26,"v":2780},{"s":30,"t":28,"v":2760},{"s":30,"t":30,"v":2790},{"s":30,"t":32,"v":2770},{"s":30,"t":34,"v":2720},{"s":30,"t":36,"v":2620},{"s":30,"t":38,"v":2650},{"s":30,"t":40,"v":2700},{"s":30,"t":42,"v":2730},{"s":30,"t":44,"v":2690},{"s":30,"t":46,"v":2670},{"s":30,"t":48,"v":2630},{"s":30,"t":50,"v":2600},{"s":30,"t":52,"v":2510},{"s":30,"t":54,"v":2320},{"s":30,"t":56,"v":2200},{"s":30,"t":58,"v":2120},{"s":30,"t":60,"v":2040},{"s":30,"t":62,"v":1990},{"s":30,"t":64,"v":2150},{"s":30,"t":66,"v":2215},{"s":30,"t":68,"v":2050},{"s":30,"t":70,"v":1960},{"s":30,"t":72,"v":1945},{"s":30,"t":74,"v":1970},{"s":30,"t":76,"v":2000},{"s":30,"t":78,"v":1930},{"s":30,"t":80,"v":1870},{"s":30,"t":82,"v":1860},{"s":30,"t":84,"v":1850},{"s":30,"t":86,"v":1780},{"s":30,"t":88,"v":1680},{"s":30,"t":90,"v":1660},{"s":30,"t":92,"v":1650},{"s":30,"t":94,"v":1645},{"s":30,"t":96,"v":1630},{"s":30,"t":98,"v":1650},{"s":30,"t":100,"v":1700},{"s":30,"t":102,"v":1620},{"s":30,"t":104,"v":1540},{"s":30,"t":106,"v":1460},{"s":30,"t":108,"v":1450},{"s":30,"t":110,"v":1455},{"s":30,"t":112,"v":1460},{"s":30,"t":114,"v":1455},{"s":30,"t":116,"v":1460},{"s":30,"t":118,"v":1440},{"s":30,"t":120,"v":1430}
    ]
  },
  "hconcat": [
    {
      "width": 464,
      "height": 308,
      "data": {"name": "hormigon"},
      "title": {"text": "(a) Hormigón impreso", "orient": "bottom", "anchor": "middle", "frame": "group", "font": "Liberation Sans", "fontSize": 23.5, "fontStyle": "italic", "fontWeight": "normal", "color": "#222", "offset": 27},
      "resolve": {"scale": {"color": "independent", "fill": "independent", "stroke": "independent", "shape": "independent"}, "axis": {"x": "independent", "y": "independent"}},
      "layer": [
        {
          "mark": {"type": "line", "strokeWidth": 1},
          "encoding": {
            "x": {"field": "t", "type": "quantitative", "scale": {"domain": [0, 120], "nice": false, "zero": false},
                  "axis": {"orient": "bottom", "values": [0,10,20,30,40,50,60,70,80,90,100,110,120], "title": "Time (s)", "titleFontSize": 12, "titlePadding": 6, "labelPadding": 2}},
            "y": {"field": "v", "type": "quantitative", "scale": {"domain": [500, 2500], "nice": false, "zero": false},
                  "axis": {"orient": "left", "format": "d", "values": [600,800,1000,1200,1400,1600,1800,2000,2200,2400], "title": "Shear stress (Pa)", "titleFontSize": 11.5, "titlePadding": 6, "labelPadding": 4}},
            "color": {"field": "s", "type": "nominal", "scale": {"domain": [0,5,10,15,20,25,30], "range": ["#1FC3EF","#F4A7B9","#2DCB8B","#5A6AB3","#F6AA80","#F2C40F","#F58A1F"]}, "legend": null}
          }
        },
        {
          "mark": {"type": "point", "size": 50, "strokeWidth": 1, "opacity": 1},
          "encoding": {
            "x": {"field": "t", "type": "quantitative", "scale": {"domain": [0, 120], "nice": false, "zero": false},
                  "axis": {"orient": "top", "values": [0,10,20,30,40,50,60,70,80,90,100,110,120], "labelExpr": "datum.value / 5", "title": "Shear strain (-)", "titleFontSize": 11, "titlePadding": 4, "labelPadding": 2}},
            "y": {"field": "v", "type": "quantitative", "scale": {"domain": [500, 2500], "nice": false, "zero": false}, "axis": null},
            "fill": {"field": "s", "type": "nominal", "scale": {"domain": [0,5,10,15,20,25,30], "range": ["#1FC3EF","#F4A7B9","#2DCB8B","#5A6AB3","#F6AA80","#F2C40F","#F58A1F"]}, "legend": null},
            "stroke": {"field": "s", "type": "nominal", "scale": {"domain": [0,5,10,15,20,25,30], "range": ["#1FC3EF","#F4A7B9","#2DCB8B","#5A6AB3","#F6AA80","#F2C40F","#F58A1F"]}, "legend": null},
            "shape": {"field": "s", "type": "nominal", "scale": {"domain": [0,5,10,15,20,25,30], "range": ["circle","M-1,0L1,0M0,-1L0,1M-0.7,-0.7L0.7,0.7M-0.7,0.7L0.7,-0.7","circle","M0,-1L0.235,-0.324L0.951,-0.309L0.38,0.124L0.588,0.809L0,0.4L-0.588,0.809L-0.38,0.124L-0.951,-0.309L-0.235,-0.324Z","M0,-1L0.8,0L0,1L-0.8,0Z","M-1,0L0.8,-0.95L0.8,0.95Z","M1,0L-0.8,-0.95L-0.8,0.95Z"]}, "legend": null}
          }
        },
        {
          "transform": [{"filter": "false"}],
          "mark": {"type": "point", "filled": true, "opacity": 1, "strokeWidth": 1},
          "encoding": {
            "x": {"field": "t", "type": "quantitative", "scale": {"domain": [0, 120], "nice": false, "zero": false},
                  "axis": {"orient": "top", "values": [5,15,25,35,45,55,65,75,85,95,105,115], "labels": false, "domain": false, "tickSize": 2, "title": null}},
            "fill": {"field": "s", "type": "nominal", "scale": {"domain": [0,5,10,15], "range": ["#1FC3EF","#F4A7B9","#2DCB8B","#5A6AB3"]},
                     "legend": {"title": null, "orient": "none", "legendX": 190, "legendY": 29, "rowPadding": 3, "labelFont": "Liberation Serif", "labelExpr": "'tᵣₑₛₜ=' + datum.label + ' min'"}},
            "stroke": {"field": "s", "type": "nominal", "scale": {"domain": [0,5,10,15], "range": ["#1FC3EF","#F4A7B9","#2DCB8B","#5A6AB3"]},
                     "legend": {"title": null, "orient": "none", "legendX": 190, "legendY": 29, "rowPadding": 3, "labelFont": "Liberation Serif", "labelExpr": "'tᵣₑₛₜ=' + datum.label + ' min'"}},
            "shape": {"field": "s", "type": "nominal", "scale": {"domain": [0,5,10,15], "range": ["M-1.54,0L1.54,0M-0.33,0A0.33,0.33 0 1,0 0.33,0A0.33,0.33 0 1,0 -0.33,0Z","M-1.54,0L1.54,0M0,-0.33L0,0.33M-0.24,-0.24L0.24,0.24M-0.24,0.24L0.24,-0.24","M-1.54,0L1.54,0M-0.33,0A0.33,0.33 0 1,0 0.33,0A0.33,0.33 0 1,0 -0.33,0Z","M-1.54,0L1.54,0M0,-0.36L0.085,-0.117L0.342,-0.111L0.137,0.045L0.212,0.291L0,0.144L-0.212,0.291L-0.137,0.045L-0.342,-0.111L-0.085,-0.117Z"]},
                     "legend": {"title": null, "orient": "none", "legendX": 190, "legendY": 29, "rowPadding": 3, "labelFont": "Liberation Serif", "labelExpr": "'tᵣₑₛₜ=' + datum.label + ' min'"}}
          }
        },
        {
          "transform": [{"filter": "false"}],
          "mark": {"type": "point", "filled": true, "opacity": 1, "strokeWidth": 1},
          "encoding": {
            "x": {"field": "t", "type": "quantitative", "scale": {"domain": [0, 120], "nice": false, "zero": false},
                  "axis": {"orient": "bottom", "values": [5,15,25,35,45,55,65,75,85,95,105,115], "labels": false, "domain": false, "tickSize": 2, "title": null}},
            "fill": {"field": "s", "type": "nominal", "scale": {"domain": [20,25,30], "range": ["#F6AA80","#F2C40F","#F58A1F"]},
                     "legend": {"title": null, "orient": "none", "legendX": 329, "legendY": 44, "rowPadding": 5, "labelFont": "Liberation Serif", "labelExpr": "'tᵣₑₛₜ=' + datum.label + ' min'"}},
            "stroke": {"field": "s", "type": "nominal", "scale": {"domain": [20,25,30], "range": ["#F6AA80","#F2C40F","#F58A1F"]},
                     "legend": {"title": null, "orient": "none", "legendX": 329, "legendY": 44, "rowPadding": 5, "labelFont": "Liberation Serif", "labelExpr": "'tᵣₑₛₜ=' + datum.label + ' min'"}},
            "shape": {"field": "s", "type": "nominal", "scale": {"domain": [20,25,30], "range": ["M-1.54,0L1.54,0M0,-0.33L0.25,0L0,0.33L-0.25,0Z","M-1.54,0L1.54,0M-0.33,0L0.27,-0.31L0.27,0.31Z","M-1.54,0L1.54,0M0.33,0L-0.27,-0.31L-0.27,0.31Z"]},
                     "legend": {"title": null, "orient": "none", "legendX": 329, "legendY": 44, "rowPadding": 5, "labelFont": "Liberation Serif", "labelExpr": "'tᵣₑₛₜ=' + datum.label + ' min'"}}
          }
        }
      ]
    },
    {
      "width": 463,
      "height": 308,
      "data": {"name": "mortero"},
      "title": {"text": "(b) Mortero", "orient": "bottom", "anchor": "middle", "frame": "group", "font": "Liberation Sans", "fontSize": 23.5, "fontStyle": "italic", "fontWeight": "normal", "color": "#222", "offset": 27},
      "resolve": {"scale": {"color": "independent", "fill": "independent", "stroke": "independent", "shape": "independent"}, "axis": {"x": "independent", "y": "independent"}},
      "layer": [
        {
          "mark": {"type": "line", "strokeWidth": 1},
          "encoding": {
            "x": {"field": "t", "type": "quantitative", "scale": {"domain": [0, 120], "nice": false, "zero": false},
                  "axis": {"orient": "bottom", "values": [0,10,20,30,40,50,60,70,80,90,100,110,120], "title": "Time (s)", "titleFontSize": 12, "titlePadding": 6, "labelPadding": 2}},
            "y": {"field": "v", "type": "quantitative", "scale": {"domain": [500, 5500], "nice": false, "zero": false},
                  "axis": {"orient": "left", "format": "d", "values": [500,1000,1500,2000,2500,3000,3500,4000,4500,5000,5500], "title": "Shear stress (Pa)", "titleFontSize": 11.5, "titlePadding": 12, "labelPadding": 1}},
            "color": {"field": "s", "type": "nominal", "scale": {"domain": [0,5,10,15,20,25,30], "range": ["#1FC3EF","#F4A7B9","#2DCB8B","#5A6AB3","#F6AA80","#F2C40F","#F58A1F"]}, "legend": null}
          }
        },
        {
          "mark": {"type": "point", "size": 50, "strokeWidth": 1, "opacity": 1},
          "encoding": {
            "x": {"field": "t", "type": "quantitative", "scale": {"domain": [0, 120], "nice": false, "zero": false},
                  "axis": {"orient": "top", "values": [0,10,20,30,40,50,60,70,80,90,100,110,120], "labelExpr": "datum.value / 5", "title": "Shear strain (-)", "titleFontSize": 11, "titlePadding": 4, "labelPadding": 2}},
            "y": {"field": "v", "type": "quantitative", "scale": {"domain": [500, 5500], "nice": false, "zero": false}, "axis": null},
            "fill": {"field": "s", "type": "nominal", "scale": {"domain": [0,5,10,15,20,25,30], "range": ["#1FC3EF","#F4A7B9","#2DCB8B","#5A6AB3","#F6AA80","#F2C40F","#F58A1F"]}, "legend": null},
            "stroke": {"field": "s", "type": "nominal", "scale": {"domain": [0,5,10,15,20,25,30], "range": ["#1FC3EF","#F4A7B9","#2DCB8B","#5A6AB3","#F6AA80","#F2C40F","#F58A1F"]}, "legend": null},
            "shape": {"field": "s", "type": "nominal", "scale": {"domain": [0,5,10,15,20,25,30], "range": ["circle","M-1,0L1,0M0,-1L0,1M-0.7,-0.7L0.7,0.7M-0.7,0.7L0.7,-0.7","circle","M0,-1L0.235,-0.324L0.951,-0.309L0.38,0.124L0.588,0.809L0,0.4L-0.588,0.809L-0.38,0.124L-0.951,-0.309L-0.235,-0.324Z","M0,-1L0.8,0L0,1L-0.8,0Z","M-1,0L0.8,-0.95L0.8,0.95Z","M1,0L-0.8,-0.95L-0.8,0.95Z"]}, "legend": null}
          }
        },
        {
          "transform": [{"filter": "false"}],
          "mark": {"type": "point", "filled": true, "opacity": 1, "strokeWidth": 1},
          "encoding": {
            "x": {"field": "t", "type": "quantitative", "scale": {"domain": [0, 120], "nice": false, "zero": false},
                  "axis": {"orient": "top", "values": [5,15,25,35,45,55,65,75,85,95,105,115], "labels": false, "domain": false, "tickSize": 2, "title": null}},
            "fill": {"field": "s", "type": "nominal", "scale": {"domain": [0,5,10,15], "range": ["#1FC3EF","#F4A7B9","#2DCB8B","#5A6AB3"]},
                     "legend": {"title": null, "orient": "none", "legendX": 190, "legendY": 26, "rowPadding": 5, "labelFont": "Liberation Serif", "labelExpr": "'tᵣₑₛₜ=' + datum.label + ' min'"}},
            "stroke": {"field": "s", "type": "nominal", "scale": {"domain": [0,5,10,15], "range": ["#1FC3EF","#F4A7B9","#2DCB8B","#5A6AB3"]},
                     "legend": {"title": null, "orient": "none", "legendX": 190, "legendY": 26, "rowPadding": 5, "labelFont": "Liberation Serif", "labelExpr": "'tᵣₑₛₜ=' + datum.label + ' min'"}},
            "shape": {"field": "s", "type": "nominal", "scale": {"domain": [0,5,10,15], "range": ["M-1.54,0L1.54,0M-0.33,0A0.33,0.33 0 1,0 0.33,0A0.33,0.33 0 1,0 -0.33,0Z","M-1.54,0L1.54,0M0,-0.33L0,0.33M-0.24,-0.24L0.24,0.24M-0.24,0.24L0.24,-0.24","M-1.54,0L1.54,0M-0.33,0A0.33,0.33 0 1,0 0.33,0A0.33,0.33 0 1,0 -0.33,0Z","M-1.54,0L1.54,0M0,-0.36L0.085,-0.117L0.342,-0.111L0.137,0.045L0.212,0.291L0,0.144L-0.212,0.291L-0.137,0.045L-0.342,-0.111L-0.085,-0.117Z"]},
                     "legend": {"title": null, "orient": "none", "legendX": 190, "legendY": 26, "rowPadding": 5, "labelFont": "Liberation Serif", "labelExpr": "'tᵣₑₛₜ=' + datum.label + ' min'"}}
          }
        },
        {
          "transform": [{"filter": "false"}],
          "mark": {"type": "point", "filled": true, "opacity": 1, "strokeWidth": 1},
          "encoding": {
            "x": {"field": "t", "type": "quantitative", "scale": {"domain": [0, 120], "nice": false, "zero": false},
                  "axis": {"orient": "bottom", "values": [5,15,25,35,45,55,65,75,85,95,105,115], "labels": false, "domain": false, "tickSize": 2, "title": null}},
            "fill": {"field": "s", "type": "nominal", "scale": {"domain": [20,25,30], "range": ["#F6AA80","#F2C40F","#F58A1F"]},
                     "legend": {"title": null, "orient": "none", "legendX": 330, "legendY": 43, "rowPadding": 5, "labelFont": "Liberation Serif", "labelExpr": "'tᵣₑₛₜ=' + datum.label + ' min'"}},
            "stroke": {"field": "s", "type": "nominal", "scale": {"domain": [20,25,30], "range": ["#F6AA80","#F2C40F","#F58A1F"]},
                     "legend": {"title": null, "orient": "none", "legendX": 330, "legendY": 43, "rowPadding": 5, "labelFont": "Liberation Serif", "labelExpr": "'tᵣₑₛₜ=' + datum.label + ' min'"}},
            "shape": {"field": "s", "type": "nominal", "scale": {"domain": [20,25,30], "range": ["M-1.54,0L1.54,0M0,-0.33L0.25,0L0,0.33L-0.25,0Z","M-1.54,0L1.54,0M-0.33,0L0.27,-0.31L0.27,0.31Z","M-1.54,0L1.54,0M0.33,0L-0.27,-0.31L-0.27,0.31Z"]},
                     "legend": {"title": null, "orient": "none", "legendX": 330, "legendY": 43, "rowPadding": 5, "labelFont": "Liberation Serif", "labelExpr": "'tᵣₑₛₜ=' + datum.label + ' min'"}}
          }
        }
      ]
    }
  ]
}
